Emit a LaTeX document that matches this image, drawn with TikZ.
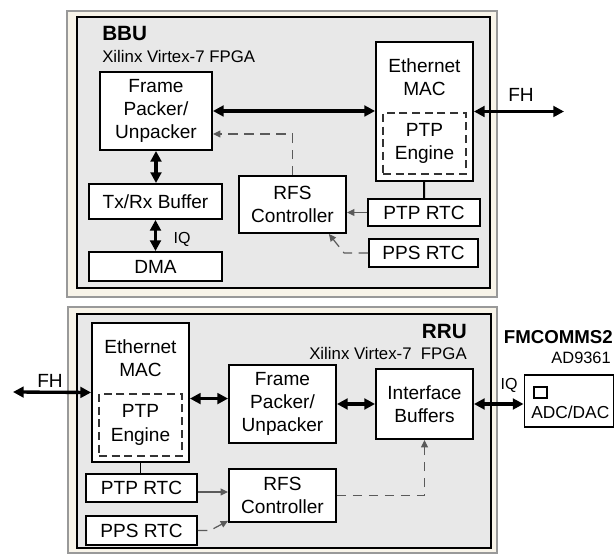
\documentclass[tikz,border=0pt]{standalone}
\usepackage{fontspec}
\setmainfont{Liberation Sans}
\usetikzlibrary{arrows.meta,positioning}
\definecolor{panelbg}{RGB}{248,244,233}
\definecolor{fpgabg}{RGB}{232,232,232}
\definecolor{linkgray}{RGB}{90,90,90}

\begin{document}
\begin{tikzpicture}[x=.75pt,y=-.75pt,every node/.style={font=\fontsize{14.3}{17.5}\selectfont,align=center,inner sep=0pt},
blk/.style={draw,fill=white,line width=1.4pt},eng/.style={draw=black!80,line width=1.2pt,dash pattern=on 6pt off 3.5pt},
fat/.style={line width=2.5pt,{Triangle[length=8pt,width=8pt]}-{Triangle[length=8pt,width=8pt]}},
gline/.style={draw=linkgray,line width=.9pt,-{Triangle[length=5.5pt,width=5pt]}},glined/.style={gline,dash pattern=on 7pt off 5pt},
sub/.style={font=\fontsize{12.6}{15}\selectfont},hdr/.style={font=\fontsize{15.5}{18}\selectfont\bfseries}]
\useasboundingbox (0,0) rectangle (615,555);
\begin{scope}
\draw[draw=black!40,fill=panelbg,line width=1pt](67,11) rectangle (497,297);\draw[fill=fpgabg,line width=1.4pt](77,17) rectangle (490,288);
\node[hdr,anchor=west](bbu) at (102,33){BBU};\node[sub,anchor=west](bbufpga) at (102,57){Xilinx Virtex-7 FPGA};
\node[blk,minimum width=84pt,minimum height=58.5pt](fpk) at (156,111){Frame\\Packer/\\Unpacker};
\node[blk,minimum width=72.75pt,minimum height=104.25pt](mac) at (424.5,111.5){};\node(mactxt) at (424.5,77.5){Ethernet\\MAC};
\node[eng,fill=white,minimum width=62.25pt,minimum height=45.75pt](pe) at (424.5,143.5){PTP\\Engine};
\node[blk,minimum width=99.75pt,minimum height=26.25pt](txrx) at (155.5,201.5){Tx/Rx Buffer};
\node[blk,minimum width=99.75pt,minimum height=21.75pt](dma) at (155.5,266.5){DMA};
\node[blk,minimum width=80.25pt,minimum height=42.75pt](rfs) at (292.5,204.5){RFS\\Controller};
\node[blk,minimum width=84pt,minimum height=20.25pt](ptp) at (424,212.5){PTP RTC};\node[blk,minimum width=81.75pt,minimum height=21pt](pps) at (423.5,253){PPS RTC};
\coordinate(fhr) at (564,111.5);\draw[fat](mac.east)--(fhr);\node(fh) at (521,95){FH};
\draw[fat](fpk.east)--(fpk.east-|mac.west);\draw[fat](fpk.south)--(fpk.south|-txrx.north);\draw[fat](txrx)--(dma);\node[font=\fontsize{12}{14}\selectfont](iq) at (182,239){IQ};
\draw[line width=1.4pt](mac)--(ptp);\draw[gline](ptp.west)--(ptp.west-|rfs.east);
\draw[glined](pps.west)--++(-24,0)--(rfs.-39);\draw[glined](rfs.north)|-(fpk.-22);
\end{scope}
\begin{scope}
\draw[draw=black!40,fill=panelbg,line width=1pt](68,307) rectangle (497,553);\draw[fill=fpgabg,line width=1.4pt](77,314) rectangle (491,548);
\node[hdr,anchor=east](rru) at (467,331){RRU};\node[sub,anchor=east](rrufpga) at (467,353){Xilinx Virtex-7\ \ FPGA};
\node[blk,minimum width=72.75pt,minimum height=104.25pt](mac2) at (140.5,392.5){};\node(mac2txt) at (140.5,358.5){Ethernet\\MAC};
\node[eng,fill=white,minimum width=62.25pt,minimum height=46.5pt](pe2) at (140.5,425){PTP\\Engine};
\node[blk,minimum width=80.25pt,minimum height=58.5pt](fpk2) at (282.5,404){Frame\\Packer/\\Unpacker};
\node[blk,minimum width=72.75pt,minimum height=52.5pt](ifb) at (424.5,404){Interface\\Buffers};
\node[blk,minimum width=80.25pt,minimum height=39.75pt](rfs2) at (282.5,495.5){RFS\\Controller};
\node[blk,minimum width=83.25pt,minimum height=21pt](ptp2) at (141.5,488){PTP RTC};\node[blk,minimum width=83.25pt,minimum height=21.75pt](pps2) at (141.5,530.5){PPS RTC};
\node[blk,minimum width=66.75pt,minimum height=39pt](adc) at (569,401){};\node[draw,line width=1.2pt,minimum width=10pt,minimum height=8.5pt](chip) at (540.5,392.5){};
\node[font=\fontsize{13}{15}\selectfont,anchor=west](adctxt) at (531,412.5){ADC/DAC};
\node[font=\fontsize{14}{16}\selectfont\bfseries,anchor=east](fmc) at (613,337.5){FMCOMMS2};\node[font=\fontsize{12.3}{14}\selectfont,anchor=east](ad) at (611,357.5){AD9361};
\coordinate(fhl) at (13,392);\draw[fat](fhl)--(mac2.west);\node(fh2) at (50,380.5){FH};
\draw[fat](mac2.-7)--(mac2.-7-|fpk2.west);\draw[fat](fpk2.east)--(ifb.west);\draw[fat](ifb.east)--(ifb.east-|adc.west);\node[font=\fontsize{12}{14}\selectfont](iq2) at (509,385){IQ};
\draw[line width=1.4pt](mac2.south)--(mac2.south|-ptp2.north);\draw[gline]([yshift=-3pt]ptp2.east)--([yshift=-3pt]ptp2.east-|rfs2.west);
\draw[glined](pps2.east)--++(12,0)--(rfs2.-155);\draw[glined](rfs2.east)-|(ifb.south);
\end{scope}
\end{tikzpicture}
\end{document}
